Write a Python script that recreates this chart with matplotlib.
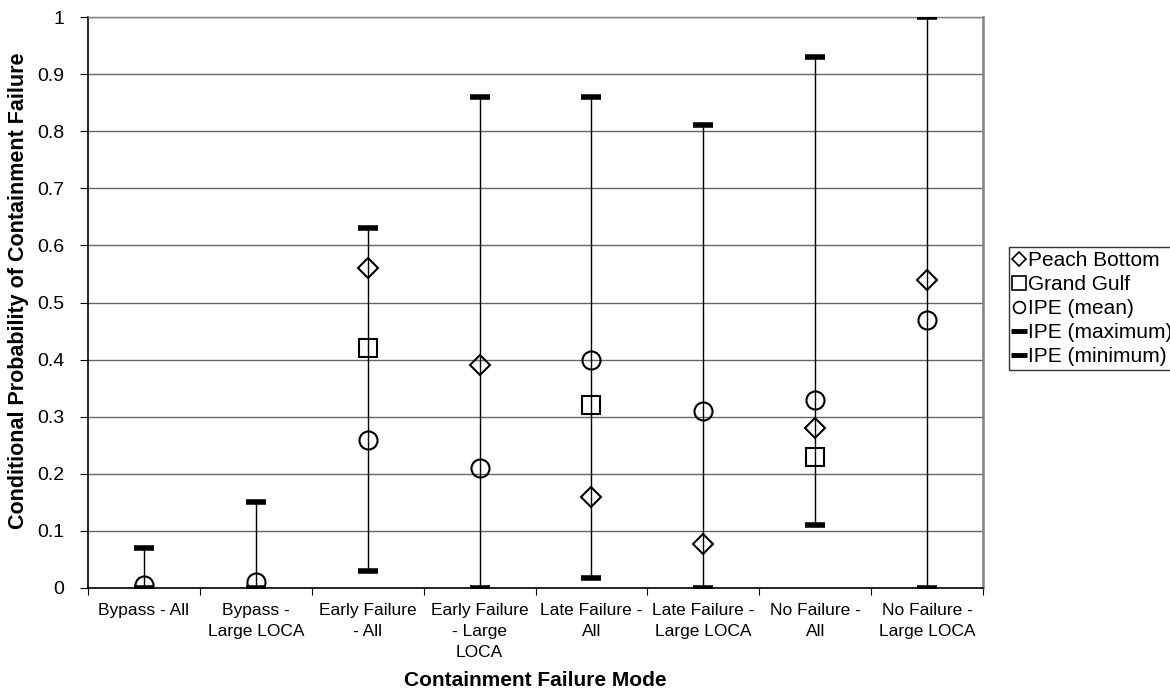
import numpy as np
import matplotlib
matplotlib.use('Agg')
from matplotlib import pyplot as plt
from matplotlib.lines import Line2D

categories = ['Bypass - All', 'Bypass -\nLarge LOCA', 'Early Failure\n- All',
              'Early Failure\n- Large\nLOCA', 'Late Failure -\nAll',
              'Late Failure -\nLarge LOCA', 'No Failure -\nAll',
              'No Failure -\nLarge LOCA']
peach_bottom = [np.nan, np.nan, 0.56, 0.39, 0.16, 0.077, 0.28, 0.54]
grand_gulf = [np.nan, np.nan, 0.42, np.nan, 0.32, np.nan, 0.23, np.nan]
ipe_mean = [0.005, 0.01, 0.26, 0.21, 0.40, 0.31, 0.33, 0.47]
ipe_max = [0.07, 0.15, 0.63, 0.86, 0.86, 0.81, 0.93, 1.0]
ipe_min = [0.0, 0.0, 0.03, 0.0, 0.018, 0.0, 0.11, 0.0]
yticklabels = ['0', '0.1', '0.2', '0.3', '0.4', '0.5', '0.6', '0.7', '0.8', '0.9', '1']

plt.rcParams['font.family'] = ['Liberation Sans', 'DejaVu Sans']

fig = plt.figure(figsize=(11.7, 6.92), dpi=100)
ax = fig.add_axes([88 / 1170, 1 - 588 / 692, (983 - 88) / 1170, (588 - 17) / 692])

x = np.arange(len(categories)) + 0.5

# high-low lines between min and max
ax.vlines(x, ipe_min, ipe_max, color='black', lw=1, zorder=3)

ax.plot(x, peach_bottom, ls='none', marker='D', ms=10.5, mfc='none', mec='black', mew=1.5, zorder=4)
ax.plot(x, grand_gulf, ls='none', marker='s', ms=12.5, mfc='none', mec='black', mew=1.5, zorder=4)
ax.plot(x, ipe_mean, ls='none', marker='o', ms=13, mfc='none', mec='black', mew=1.5, zorder=4)
ax.plot(x, ipe_max, ls='none', marker='_', ms=14, mec='black', mew=4, zorder=5)
ax.plot(x, ipe_min, ls='none', marker='_', ms=14, mec='black', mew=4, zorder=5)

ax.set_xlim(0, len(categories))
ax.set_ylim(0, 1)
ax.set_yticks(np.arange(0, 1.01, 0.1))
ax.set_yticklabels(yticklabels, fontsize=14)
ax.set_xticks(np.arange(0, len(categories) + 1))
ax.set_xticklabels([])
ax.set_xticks(x, minor=True)
ax.set_xticklabels(categories, minor=True, fontsize=12.5, linespacing=1.5)
ax.tick_params(axis='x', which='minor', length=0, pad=10.5)
ax.tick_params(axis='x', which='major', length=5, direction='out', color='black')
ax.tick_params(axis='y', length=6, direction='out', color='black', pad=11)

ax.grid(axis='y', color='#666666', lw=1)
ax.set_axisbelow(True)
for s in ['left', 'bottom']:
    ax.spines[s].set_color('black')
    ax.spines[s].set_linewidth(1.2)
ax.spines['right'].set_color('#808080')
ax.spines['right'].set_linewidth(1.8)
ax.spines['top'].set_color('#808080')
ax.spines['top'].set_linewidth(1.0)

ax.set_ylabel('Conditional Probability of Containment Failure', fontsize=15.5,
              fontweight='bold')
ax.yaxis.set_label_coords(-0.066, 0.52)
ax.set_xlabel('Containment Failure Mode', fontsize=15, fontweight='bold')
ax.xaxis.set_label_coords(0.5, -0.146)

handles = [
    Line2D([], [], ls='none', marker='D', ms=7, mfc='none', mec='black', mew=1.2),
    Line2D([], [], ls='none', marker='s', ms=9.5, mfc='none', mec='black', mew=1.2),
    Line2D([], [], ls='none', marker='o', ms=8.5, mfc='none', mec='black', mew=1.2),
    Line2D([], [], ls='none', marker='_', ms=12, mec='black', mew=3.5),
    Line2D([], [], ls='none', marker='_', ms=12, mec='black', mew=3.5),
]
labels = ['Peach Bottom', 'Grand Gulf', 'IPE (mean)', 'IPE (maximum)', 'IPE (minimum)']
leg = fig.legend(handles, labels, loc='upper left', bbox_to_anchor=(1009 / 1170, 1 - 247 / 692),
                 fontsize=15, frameon=True, fancybox=False, handlelength=0.55,
                 handletextpad=0.15, borderpad=0.2, labelspacing=0.24, borderaxespad=0)
leg.get_frame().set_edgecolor('black')
leg.get_frame().set_linewidth(1.0)

fig.savefig('out.png', dpi=100)
